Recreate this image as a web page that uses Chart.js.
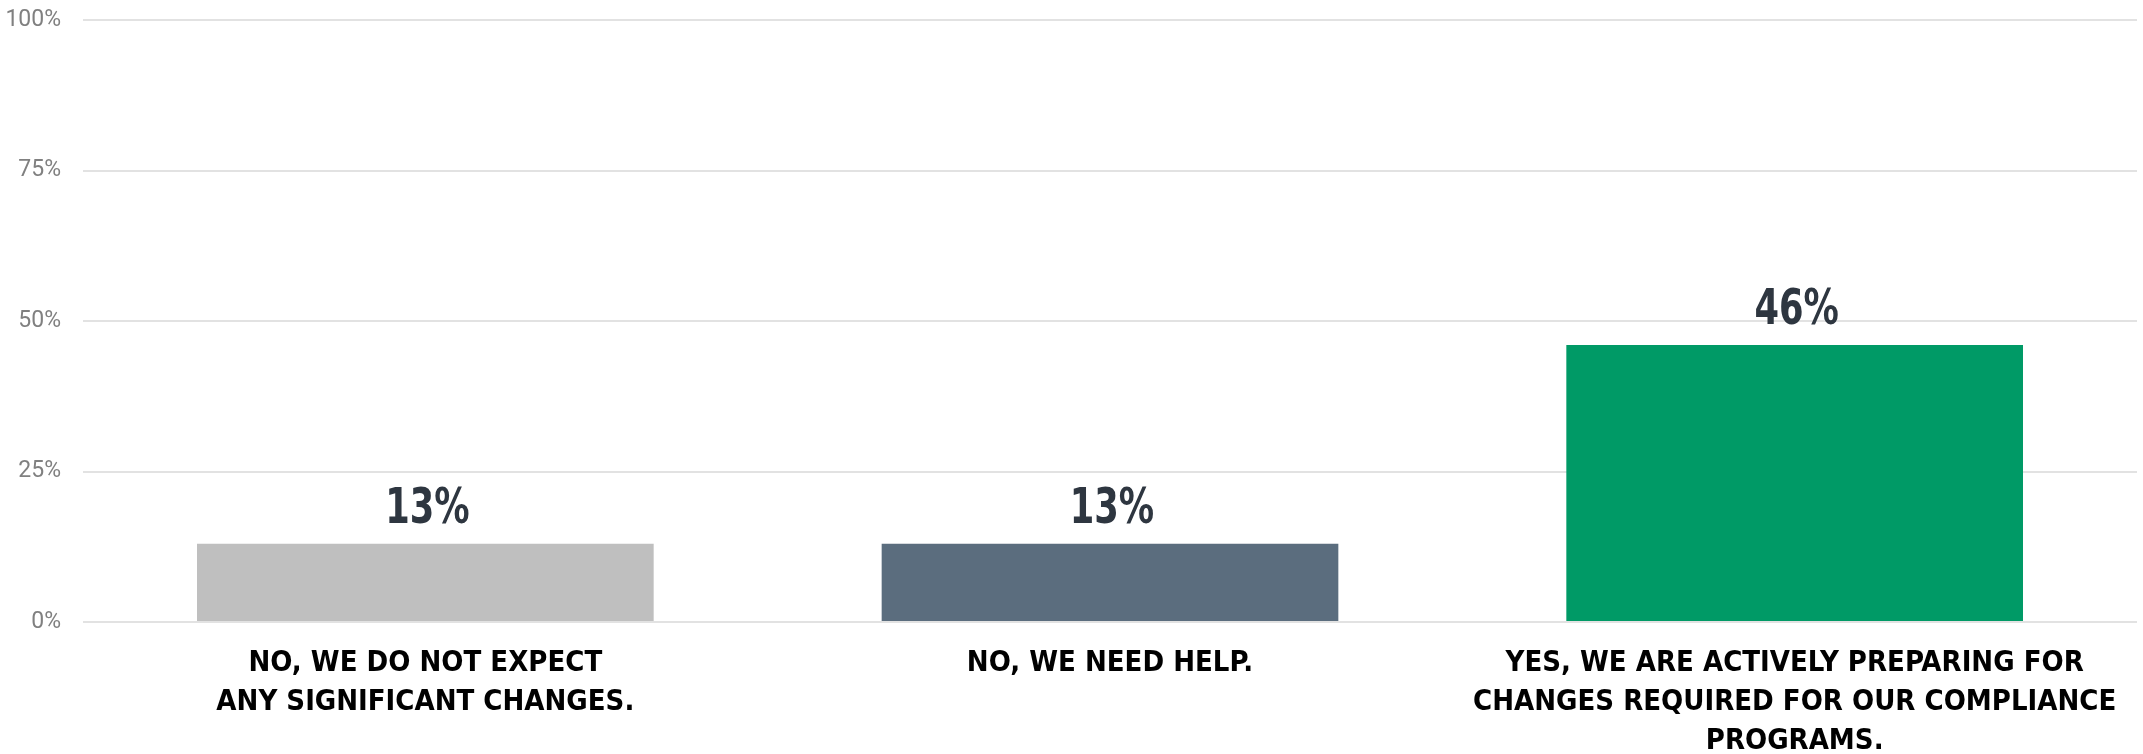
<!DOCTYPE html>
<html>
<head>
<meta charset="utf-8">
<script src="https://cdn.jsdelivr.net/npm/chart.js@4.4.1/dist/chart.umd.min.js"></script>
<style>
  html, body { margin: 0; padding: 0; background: #fff; }
  #wrap { width: 2143px; height: 754px; position: relative; }
</style>
</head>
<body>
<div id="wrap"><canvas id="myChart"></canvas></div>
<script>
// answers and their share of respondents (%)
const categories = [
    ['NO, WE DO NOT EXPECT', 'ANY SIGNIFICANT CHANGES.'],
    ['NO, WE NEED HELP.'],
    ['YES, WE ARE ACTIVELY PREPARING FOR', 'CHANGES REQUIRED FOR OUR COMPLIANCE', 'PROGRAMS.']
];
const shares = [13, 13, 46];
const barColors = ['#bfbfbf', '#5b6d7e', '#009a66'];
const yTicks = [0, 25, 50, 75, 100];

// draws the "13%" style labels above each bar (font squeezed a bit to match the narrow original)
const valueLabels = {
    id: 'valueLabels',
    afterDatasetsDraw(chart) {
        const ctx = chart.ctx;
        const meta = chart.getDatasetMeta(0);
        ctx.save();
        ctx.font = 'bold 49px "DejaVu Sans Condensed", sans-serif';
        ctx.fillStyle = '#2e3640';
        ctx.textAlign = 'center';
        ctx.textBaseline = 'alphabetic';
        meta.data.forEach(function(bar, i) {
            ctx.save();
            ctx.translate(bar.x + 2, bar.y - 21);
            ctx.scale(0.8, 1);
            ctx.fillText(shares[i] + '%', 0, 0);
            ctx.restore();
        });
        ctx.restore();
    }
};

const ctx = document.getElementById('myChart').getContext('2d');
const chart = new Chart(ctx, {
    type: 'bar',
    data: {
        labels: categories,
        datasets: [{
            data: shares,
            backgroundColor: barColors,
            borderWidth: 0,
            barPercentage: 0.667,
            categoryPercentage: 1
        }]
    },
    options: {
        responsive: true,
        maintainAspectRatio: false,
        animation: false,
        layout: { padding: { top: 20, right: 6, left: 0, bottom: 0 } },
        plugins: {
            legend: { display: false },
            tooltip: { enabled: false }
        },
        scales: {
            x: {
                grid: { display: false, drawTicks: false },
                border: { display: false },
                ticks: {
                    autoSkip: false,
                    maxRotation: 0,
                    minRotation: 0,
                    padding: 22,
                    color: '#000',
                    font: { family: '"DejaVu Sans Condensed", sans-serif', size: 29, weight: 'bold', lineHeight: '39px' }
                },
                afterFit: function(scale) { scale.height = 132; }
            },
            y: {
                min: 0,
                max: 100,
                afterBuildTicks: function(scale) {
                    scale.ticks = yTicks.map(v => ({ value: v }));
                },
                grid: { color: '#e2e2e2', lineWidth: 2, drawTicks: false },
                border: { display: false },
                ticks: {
                    padding: 22,
                    color: '#808080',
                    font: { family: 'Roboto, "Open Sans", sans-serif', size: 23 },
                    callback: v => v + '%'
                },
                afterFit: function(scale) {
                    scale.width = 83;
                    // the tick padding should not push the plot down from the top
                    scale.paddingTop = 0;
                    scale.paddingBottom = 0;
                }
            }
        }
    },
    plugins: [valueLabels]
});
</script>
</body>
</html>
